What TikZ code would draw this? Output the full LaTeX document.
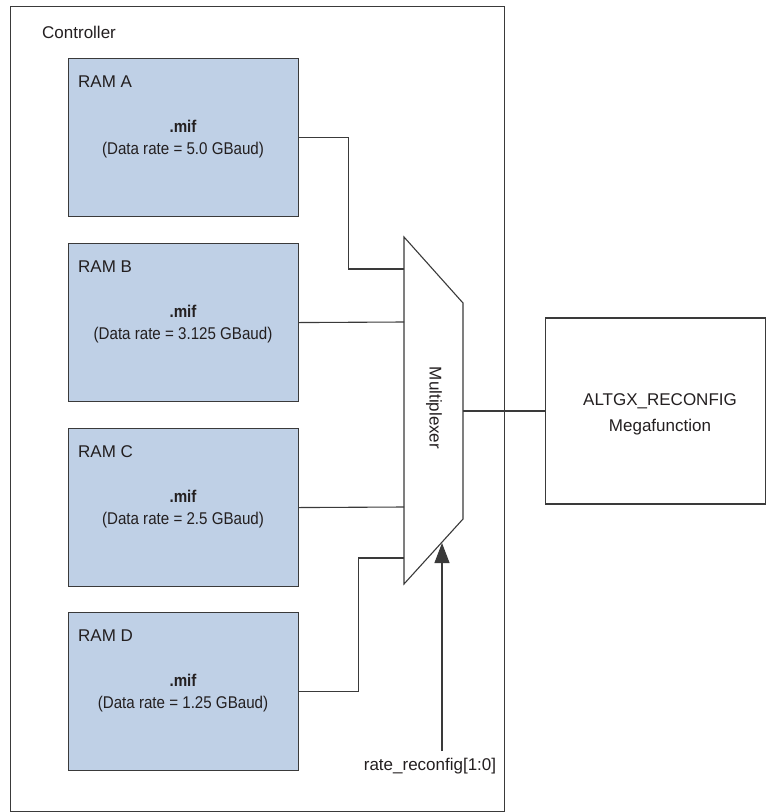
\documentclass[tikz,border=0pt]{standalone}
\usepackage{fontspec}
\setmainfont{Liberation Sans}
\newfontfamily\narrowfont[FakeStretch=0.89]{Liberation Sans}
\usetikzlibrary{arrows.meta}
\definecolor{lc}{HTML}{3A3A3A}
\definecolor{tc}{HTML}{231F20}
\definecolor{ramfill}{HTML}{BFD0E6}
\begin{document}
\begin{tikzpicture}[x=1pt,y=-1pt,
  wire/.style={draw=lc, line width=1.1pt},
  rambox/.style={draw=lc, line width=1.1pt, fill=ramfill, minimum width=230pt, minimum height=158pt, inner sep=0pt, anchor=north west},
  plainbox/.style={draw=lc, line width=1.1pt, inner sep=0pt},
  lbl/.style={text=tc, inner sep=0pt, font=\fontsize{17}{20}\selectfont},
  nlbl/.style={text=tc, inner sep=0pt, font=\narrowfont\fontsize{17}{20}\selectfont},
  bnlbl/.style={text=tc, inner sep=0pt, font=\narrowfont\bfseries\fontsize{17}{20}\selectfont}
]
\useasboundingbox (0,0) rectangle (766,812);
% controller
\node[plainbox, anchor=north west, minimum width=494pt, minimum height=805pt] (ctrl) at (10,6) {};
\node[lbl, anchor=base west] (ctrllbl) at (42,38) {Controller};
% RAM boxes
\foreach \n/\t/\r in {A/58/5.0, B/243/3.125, C/428/2.5, D/612/1.25}{
  \node[rambox] (ram\n) at (68,\t) {};
  \node[lbl, anchor=base west] (ramlbl\n) at (78,\t+29) {RAM \n};
  \node[bnlbl, anchor=base] (mif\n) at (183,\t+74) {.mif};
  \node[nlbl, anchor=base] (rate\n) at (183,\t+96) {(Data rate = \r\ GBaud)};
}
% multiplexer
\coordinate (mtl) at (404,237);
\coordinate (mtr) at (463,303);
\coordinate (mbr) at (463,519);
\coordinate (mbl) at (404,584);
\draw[wire, fill=white] (mtl) -- (mtr) -- (mbr) -- (mbl) -- cycle;
\node[lbl, rotate=-90] (muxlbl) at (434,408) {Multiplexer};
\coordinate (in1) at (404,269);
\coordinate (in2) at (404,322);
\coordinate (in3) at (404,507);
\coordinate (in4) at (404,558);
\coordinate (mout) at (463,411);
\draw[wire] (ramA.east) -- ++(49,0) |- (in1);
\draw[wire] (ramB.east) -- (in2);
\draw[wire] (ramC.east) -- (in3);
\draw[wire] (ramD.east) -- ++(59,0) |- (in4);
% ALTGX
\node[plainbox, anchor=west, minimum width=220.4pt, minimum height=186pt] (alt) at (545,411) {};
\node[lbl, anchor=base] (alt1) at (660,405) {ALTGX\_RECONFIG};
\node[lbl, anchor=base] (alt2) at (660,431) {Megafunction};
\draw[wire] (mout) -- (alt.west);
% select
\coordinate (sel) at (442,543);
\coordinate (selsrc) at (442,751);
\node[lbl, anchor=base] (ratelbl) at (430,770) {rate\_reconfig[1:0]};
\draw[wire, -{Triangle[length=20pt,width=15pt]}] (selsrc) -- (sel);
\end{tikzpicture}
\end{document}
